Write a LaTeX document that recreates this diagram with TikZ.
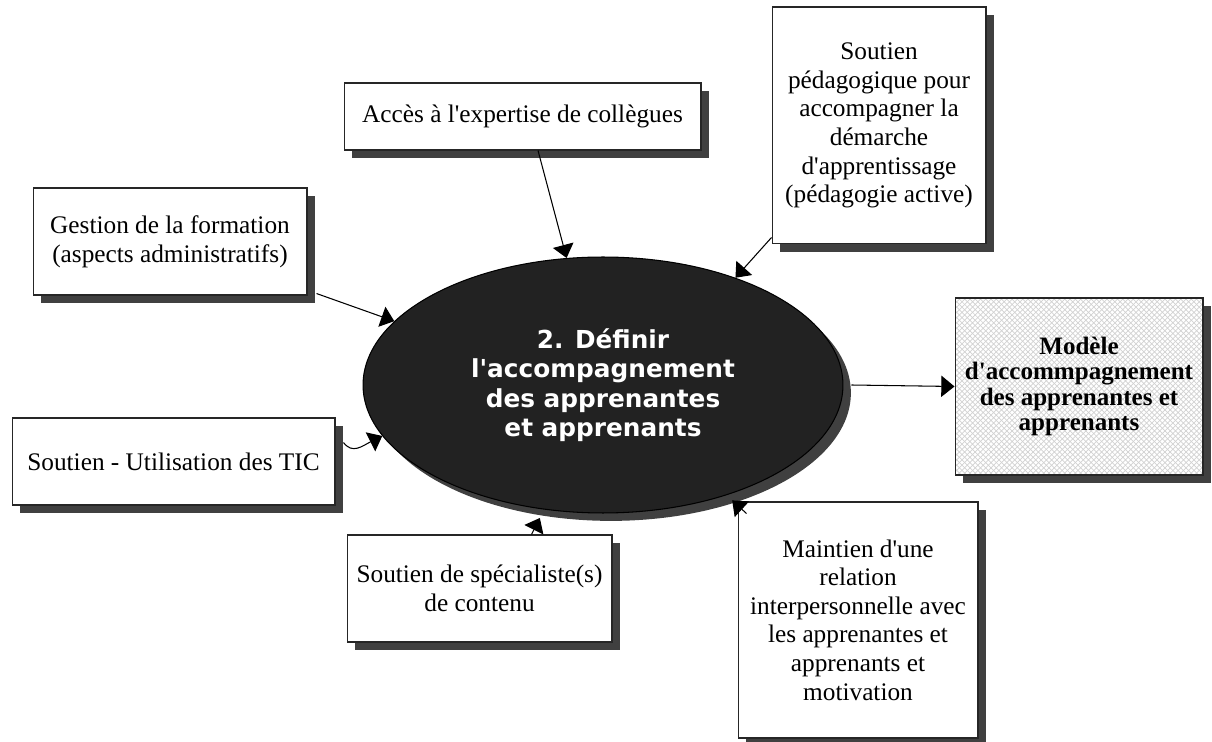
\documentclass[tikz,border=0pt]{standalone}
\usepackage{fontspec}
\setmainfont{Liberation Serif}[Ligatures=TeXOff]
\newfontfamily\ellfont{DejaVu Sans}[Ligatures=TeXOff]
\usepackage{tikz}
\usetikzlibrary{calc,shapes.geometric,shadows,arrows.meta,patterns}
\usepackage{xcolor}
\definecolor{shadowgray}{HTML}{404040}
\definecolor{ellfill}{HTML}{222222}
\newcommand{\boxfont}{\fontsize{14.4}{16.3}\selectfont}
\tikzset{
  box/.style={draw=black!85,fill=white,line width=0.6pt,align=center,inner sep=0pt,
    font=\boxfont,drop shadow={shadow xshift=4.5pt,shadow yshift=-4.5pt,fill=shadowgray,opacity=1}},
  ell/.style={ellipse,draw=black,fill=ellfill,line width=0.6pt,align=center,inner sep=0pt,
    text=white,font=\ellfont\bfseries\fontsize{14.1}{16.8}\selectfont,
    drop shadow={shadow xshift=4.5pt,shadow yshift=-4.5pt,fill=shadowgray,opacity=1}},
  arr/.style={line width=0.6pt,-{Triangle[length=7.5pt,width=12pt]}}
}

\begin{document}
\begin{tikzpicture}[x=0.02cm,y=-0.02cm]
	\useasboundingbox (0,0) rectangle (1212,742);

    \node[box,minimum width=7.14cm,minimum height=1.34cm] (acces) at (522.5,116.5)
      {Accès à l'expertise de collègues};
    \node[box,minimum width=5.48cm,minimum height=2.14cm] (gestion) at (170,241.5)
      {Gestion de la formation\\(aspects administratifs)};
    \node[box,minimum width=4.28cm,minimum height=4.74cm] (peda) at (879,125.5)
      {Soutien\\pédagogique pour\\accompagner la\\démarche\\d'apprentissage\\(pédagogie active)};
    \node[box,minimum width=6.46cm,minimum height=1.74cm] (tic) at (173.5,461.5)
      {Soutien - Utilisation des TIC};
    \node[box,minimum width=5.30cm,minimum height=2.14cm] (spec) at (479.5,588.5)
      {Soutien de spécialiste(s)\\de contenu};
    \node[box,minimum width=4.80cm,minimum height=4.72cm] (maint) at (858,620)
      {Maintien d'une\\relation\\interpersonnelle avec\\les apprenantes et\\apprenants et\\motivation};
    \node[box,minimum width=4.96cm,minimum height=3.54cm,preaction={fill=white},
      pattern=crosshatch,pattern color=gray!35,font=\bfseries\fontsize{14.25}{14.4}\selectfont]
      (modele) at (1079,386.5)
      {Modèle\\d'accommpagnement\\des apprenantes et\\apprenants};

    \node[ell,minimum width=9.6cm,minimum height=5.12cm] (E) at (603,385)
      {2. Définir\\l'accompagnement\\des apprenantes\\et apprenants};

    \draw[arr] ($(acces.south)+(15.5,0)$) -- (E.106);
    \draw[arr] ($(peda.south west)+(0,-7)$) -- (E.39);
    \draw[arr] ($(gestion.south east)+(9,-2)$) -- (E.163);
    \draw[arr] ($(tic.east)+(8,-19)$) .. controls +(9,12) and +(-20,10) .. (E.193);
    \draw[arr] ($(spec.north)+(52,0)$) -- ($(E.243)+(0,9)$);
    \draw[arr] ($(maint.north west)+(9,12)$) -- ($(E.320)+(0,7)$);
    \draw[arr] ($(E.east)+(8,0)$) -- (modele.west);
\end{tikzpicture}
\end{document}
